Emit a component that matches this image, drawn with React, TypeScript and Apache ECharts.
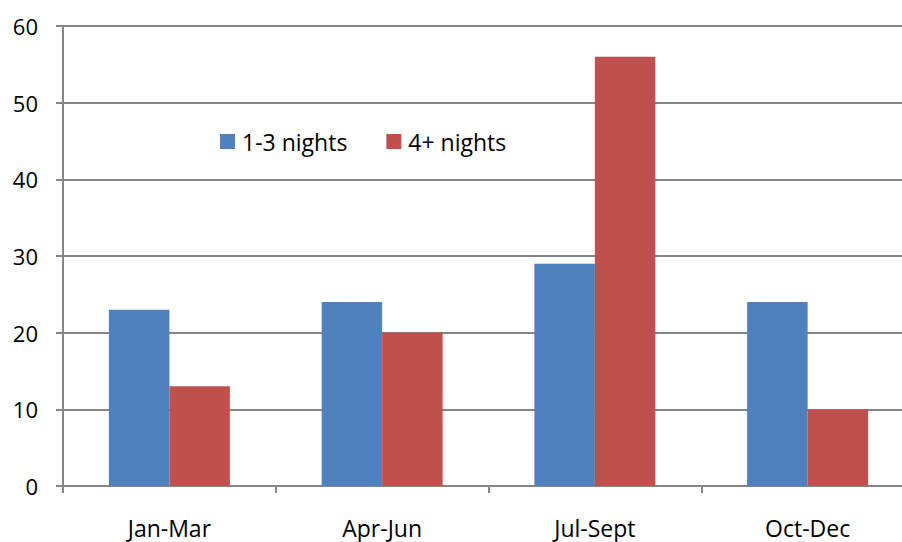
import React, { useEffect, useRef } from "react";
import * as echarts from "echarts";

const categories = ["Jan-Mar", "Apr-Jun", "Jul-Sept", "Oct-Dec"];
const shortStays = [23, 24, 29, 24];
const longStays = [13, 20, 56, 10];
const seriesNames = ["1-3 nights", "4+ nights"];

const FONT = "'Open Sans', 'Noto Sans', sans-serif";

export default function App() {
  const ref = useRef<HTMLDivElement>(null);
  useEffect(() => {
    if (!ref.current) return;
    const chart = echarts.init(ref.current, undefined, { renderer: "svg" });
    chart.setOption({
      animation: false,
      backgroundColor: "#ffffff",
      grid: { left: 63, top: 26, right: 0, bottom: 56 },
      legend: {
        left: 220,
        top: 130,
        padding: 0,
        itemWidth: 15,
        itemHeight: 15,
        itemGap: 39,
        icon: "rect",
        textStyle: { fontFamily: FONT, fontSize: 23, color: "#000000", padding: [0, 0, 0, 2] },
        data: seriesNames,
      },
      xAxis: {
        type: "category",
        data: categories,
        axisLine: { lineStyle: { color: "#868686", width: 2 } },
        axisTick: { show: true, length: 7, lineStyle: { color: "#868686", width: 2 } },
        axisLabel: { fontFamily: FONT, fontSize: 23, lineHeight: 23, color: "#000000", margin: 30 },
      },
      yAxis: {
        type: "value",
        min: 0,
        max: 60,
        interval: 10,
        axisLine: { show: true, lineStyle: { color: "#868686", width: 2 } },
        axisTick: { show: true, length: 7, lineStyle: { color: "#868686", width: 2 } },
        splitLine: { lineStyle: { color: "#868686", width: 2 } },
        axisLabel: { fontFamily: FONT, fontSize: 22, color: "#000000", margin: 25 },
      },
      series: [
        {
          name: seriesNames[0],
          type: "bar",
          data: shortStays,
          barWidth: 60.5,
          barGap: "0%",
          itemStyle: { color: "#4F81BD" },
        },
        {
          name: seriesNames[1],
          type: "bar",
          data: longStays,
          barWidth: 60.5,
          barGap: "0%",
          itemStyle: { color: "#C0504D" },
        },
      ],
    });
    return () => chart.dispose();
  }, []);
  return (
    <div
      style={{ position: "fixed", left: 0, top: 0, width: 902, height: 542, overflow: "hidden", background: "#fff" }}
    >
      <div ref={ref} style={{ width: 914, height: 542 }} />
    </div>
  );
}
